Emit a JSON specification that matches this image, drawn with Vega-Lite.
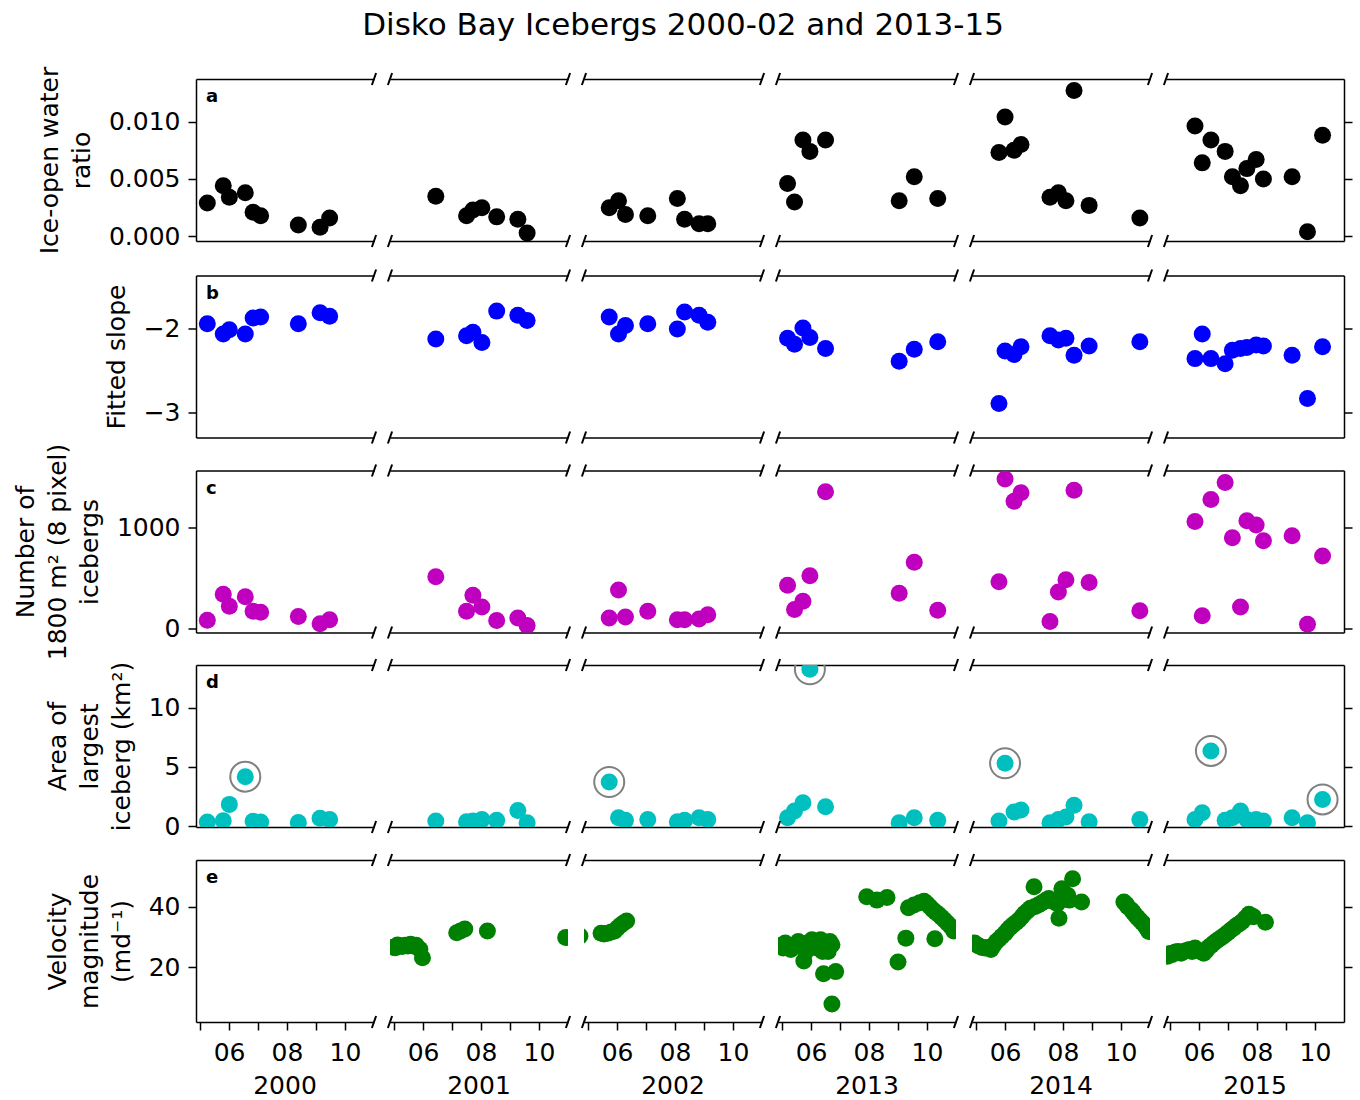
{
  "$schema": "https://vega.github.io/schema/vega-lite/v6.json",
  "padding": {"left": 13, "right": 5, "top": 10, "bottom": 0},
  "title": {"text": "Disko Bay Icebergs 2000-02 and 2013-15", "font": "DejaVu Sans", "fontSize": 31, "fontWeight": "normal", "color": "#000000", "anchor": "middle", "frame": "bounds", "offset": 24},
  "config": {
    "font": "DejaVu Sans",
    "view": {"stroke": null},
    "axis": {"grid": false, "labelFont": "DejaVu Sans", "labelFontSize": 25, "labelColor": "#000000", "titleFont": "DejaVu Sans", "titleFontSize": 25, "titleFontWeight": "normal", "titleColor": "#000000", "titleLineHeight": 32, "titlePadding": 14, "domainColor": "#000000", "domainWidth": 1.5, "tickColor": "#000000", "tickWidth": 1.5, "tickSize": 8, "labelPadding": 8, "labelFlush": false, "labelOverlap": false},
    "header": {"labelFont": "DejaVu Sans", "labelFontSize": 25, "labelColor": "#000000"}
  },
  "datasets": {
    "a": [
      {"year":2000,"m":5.25,"v":0.0029},{"year":2000,"m":5.80,"v":0.0044},{"year":2000,"m":6.01,"v":0.0034},{"year":2000,"m":6.56,"v":0.0038},{"year":2000,"m":6.83,"v":0.0021},{"year":2000,"m":7.09,"v":0.0018},{"year":2000,"m":8.39,"v":0.0010},{"year":2000,"m":9.14,"v":0.0008},{"year":2000,"m":9.47,"v":0.0016},
      {"year":2001,"m":6.44,"v":0.0035},{"year":2001,"m":7.50,"v":0.0018},{"year":2001,"m":7.72,"v":0.0023},{"year":2001,"m":8.03,"v":0.0025},{"year":2001,"m":8.54,"v":0.0017},{"year":2001,"m":9.27,"v":0.0015},{"year":2001,"m":9.59,"v":0.0003},
      {"year":2002,"m":5.73,"v":0.0025},{"year":2002,"m":6.05,"v":0.0031},{"year":2002,"m":6.29,"v":0.0019},{"year":2002,"m":7.06,"v":0.0018},{"year":2002,"m":8.08,"v":0.0033},{"year":2002,"m":8.33,"v":0.0015},{"year":2002,"m":8.83,"v":0.0011},{"year":2002,"m":9.13,"v":0.0011},
      {"year":2013,"m":5.19,"v":0.0046},{"year":2013,"m":5.43,"v":0.0030},{"year":2013,"m":5.72,"v":0.0084},{"year":2013,"m":5.96,"v":0.0074},{"year":2013,"m":6.50,"v":0.0084},{"year":2013,"m":9.04,"v":0.0031},{"year":2013,"m":9.56,"v":0.0052},{"year":2013,"m":10.37,"v":0.0033},
      {"year":2014,"m":5.79,"v":0.0073},{"year":2014,"m":6.00,"v":0.0104},{"year":2014,"m":6.31,"v":0.0075},{"year":2014,"m":6.55,"v":0.0080},{"year":2014,"m":7.55,"v":0.0034},{"year":2014,"m":7.84,"v":0.0038},{"year":2014,"m":8.10,"v":0.0031},{"year":2014,"m":8.38,"v":0.0127},{"year":2014,"m":8.90,"v":0.0027},{"year":2014,"m":10.65,"v":0.0016},
      {"year":2015,"m":5.86,"v":0.0096},{"year":2015,"m":6.11,"v":0.0064},{"year":2015,"m":6.41,"v":0.0084},{"year":2015,"m":6.90,"v":0.0074},{"year":2015,"m":7.15,"v":0.0052},{"year":2015,"m":7.43,"v":0.0044},{"year":2015,"m":7.65,"v":0.0059},{"year":2015,"m":7.97,"v":0.0067},{"year":2015,"m":8.22,"v":0.0050},{"year":2015,"m":9.21,"v":0.0052},{"year":2015,"m":9.74,"v":0.0004},{"year":2015,"m":10.26,"v":0.0088}
    ],
    "b": [
      {"year":2000,"m":5.25,"v":-1.95},{"year":2000,"m":5.80,"v":-2.07},{"year":2000,"m":6.01,"v":-2.02},{"year":2000,"m":6.56,"v":-2.07},{"year":2000,"m":6.83,"v":-1.88},{"year":2000,"m":7.09,"v":-1.87},{"year":2000,"m":8.39,"v":-1.95},{"year":2000,"m":9.14,"v":-1.82},{"year":2000,"m":9.47,"v":-1.86},
      {"year":2001,"m":6.44,"v":-2.13},{"year":2001,"m":7.50,"v":-2.09},{"year":2001,"m":7.72,"v":-2.05},{"year":2001,"m":8.03,"v":-2.17},{"year":2001,"m":8.54,"v":-1.80},{"year":2001,"m":9.27,"v":-1.85},{"year":2001,"m":9.59,"v":-1.91},
      {"year":2002,"m":5.73,"v":-1.87},{"year":2002,"m":6.05,"v":-2.07},{"year":2002,"m":6.29,"v":-1.97},{"year":2002,"m":7.06,"v":-1.95},{"year":2002,"m":8.08,"v":-2.01},{"year":2002,"m":8.33,"v":-1.81},{"year":2002,"m":8.83,"v":-1.85},{"year":2002,"m":9.13,"v":-1.93},
      {"year":2013,"m":5.19,"v":-2.12},{"year":2013,"m":5.43,"v":-2.19},{"year":2013,"m":5.72,"v":-2.00},{"year":2013,"m":5.96,"v":-2.11},{"year":2013,"m":6.50,"v":-2.24},{"year":2013,"m":9.04,"v":-2.39},{"year":2013,"m":9.56,"v":-2.25},{"year":2013,"m":10.37,"v":-2.16},
      {"year":2014,"m":5.79,"v":-2.89},{"year":2014,"m":6.00,"v":-2.27},{"year":2014,"m":6.31,"v":-2.31},{"year":2014,"m":6.55,"v":-2.22},{"year":2014,"m":7.55,"v":-2.09},{"year":2014,"m":7.84,"v":-2.14},{"year":2014,"m":8.10,"v":-2.12},{"year":2014,"m":8.38,"v":-2.32},{"year":2014,"m":8.90,"v":-2.21},{"year":2014,"m":10.65,"v":-2.16},
      {"year":2015,"m":5.86,"v":-2.36},{"year":2015,"m":6.11,"v":-2.07},{"year":2015,"m":6.41,"v":-2.36},{"year":2015,"m":6.90,"v":-2.42},{"year":2015,"m":7.15,"v":-2.26},{"year":2015,"m":7.43,"v":-2.24},{"year":2015,"m":7.65,"v":-2.23},{"year":2015,"m":7.97,"v":-2.20},{"year":2015,"m":8.22,"v":-2.21},{"year":2015,"m":9.21,"v":-2.32},{"year":2015,"m":9.74,"v":-2.83},{"year":2015,"m":10.26,"v":-2.22}
    ],
    "c": [
      {"year":2000,"m":5.25,"v":80},{"year":2000,"m":5.80,"v":336},{"year":2000,"m":6.01,"v":218},{"year":2000,"m":6.56,"v":312},{"year":2000,"m":6.83,"v":168},{"year":2000,"m":7.09,"v":158},{"year":2000,"m":8.39,"v":117},{"year":2000,"m":9.14,"v":45},{"year":2000,"m":9.47,"v":84},
      {"year":2001,"m":6.44,"v":510},{"year":2001,"m":7.50,"v":168},{"year":2001,"m":7.72,"v":326},{"year":2001,"m":8.03,"v":211},{"year":2001,"m":8.54,"v":77},{"year":2001,"m":9.27,"v":101},{"year":2001,"m":9.59,"v":28},
      {"year":2002,"m":5.73,"v":101},{"year":2002,"m":6.05,"v":379},{"year":2002,"m":6.29,"v":111},{"year":2002,"m":7.06,"v":168},{"year":2002,"m":8.08,"v":84},{"year":2002,"m":8.33,"v":84},{"year":2002,"m":8.83,"v":91},{"year":2002,"m":9.13,"v":134},
      {"year":2013,"m":5.19,"v":426},{"year":2013,"m":5.43,"v":185},{"year":2013,"m":5.72,"v":268},{"year":2013,"m":5.96,"v":520},{"year":2013,"m":6.50,"v":1352},{"year":2013,"m":9.04,"v":346},{"year":2013,"m":9.56,"v":654},{"year":2013,"m":10.37,"v":178},
      {"year":2014,"m":5.79,"v":460},{"year":2014,"m":6.00,"v":1477},{"year":2014,"m":6.31,"v":1258},{"year":2014,"m":6.55,"v":1342},{"year":2014,"m":7.55,"v":67},{"year":2014,"m":7.84,"v":359},{"year":2014,"m":8.10,"v":480},{"year":2014,"m":8.38,"v":1366},{"year":2014,"m":8.90,"v":453},{"year":2014,"m":10.65,"v":174},
      {"year":2015,"m":5.86,"v":1057},{"year":2015,"m":6.11,"v":124},{"year":2015,"m":6.41,"v":1275},{"year":2015,"m":6.90,"v":1443},{"year":2015,"m":7.15,"v":896},{"year":2015,"m":7.43,"v":211},{"year":2015,"m":7.65,"v":1064},{"year":2015,"m":7.97,"v":1023},{"year":2015,"m":8.22,"v":866},{"year":2015,"m":9.21,"v":916},{"year":2015,"m":9.74,"v":40},{"year":2015,"m":10.26,"v":715}
    ],
    "d": [
      {"year":2000,"m":5.25,"v":0.35,"circled":false},{"year":2000,"m":5.80,"v":0.45,"circled":false},{"year":2000,"m":6.01,"v":1.83,"circled":false},{"year":2000,"m":6.56,"v":4.17,"circled":true},{"year":2000,"m":6.83,"v":0.40,"circled":false},{"year":2000,"m":7.09,"v":0.35,"circled":false},{"year":2000,"m":8.39,"v":0.30,"circled":false},{"year":2000,"m":9.14,"v":0.65,"circled":false},{"year":2000,"m":9.47,"v":0.55,"circled":false},
      {"year":2001,"m":6.44,"v":0.42,"circled":false},{"year":2001,"m":7.50,"v":0.37,"circled":false},{"year":2001,"m":7.72,"v":0.42,"circled":false},{"year":2001,"m":8.03,"v":0.56,"circled":false},{"year":2001,"m":8.54,"v":0.48,"circled":false},{"year":2001,"m":9.27,"v":1.32,"circled":false},{"year":2001,"m":9.59,"v":0.28,"circled":false},
      {"year":2002,"m":5.73,"v":3.72,"circled":true},{"year":2002,"m":6.05,"v":0.70,"circled":false},{"year":2002,"m":6.29,"v":0.48,"circled":false},{"year":2002,"m":7.06,"v":0.56,"circled":false},{"year":2002,"m":8.08,"v":0.37,"circled":false},{"year":2002,"m":8.33,"v":0.48,"circled":false},{"year":2002,"m":8.83,"v":0.70,"circled":false},{"year":2002,"m":9.13,"v":0.56,"circled":false},
      {"year":2013,"m":5.19,"v":0.70,"circled":false},{"year":2013,"m":5.43,"v":1.27,"circled":false},{"year":2013,"m":5.72,"v":1.97,"circled":false},{"year":2013,"m":5.96,"v":13.24,"circled":true},{"year":2013,"m":6.50,"v":1.63,"circled":false},{"year":2013,"m":9.04,"v":0.28,"circled":false},{"year":2013,"m":9.56,"v":0.70,"circled":false},{"year":2013,"m":10.37,"v":0.48,"circled":false},
      {"year":2014,"m":5.79,"v":0.42,"circled":false},{"year":2014,"m":6.00,"v":5.30,"circled":true},{"year":2014,"m":6.31,"v":1.18,"circled":false},{"year":2014,"m":6.55,"v":1.35,"circled":false},{"year":2014,"m":7.55,"v":0.28,"circled":false},{"year":2014,"m":7.84,"v":0.56,"circled":false},{"year":2014,"m":8.10,"v":0.76,"circled":false},{"year":2014,"m":8.38,"v":1.75,"circled":false},{"year":2014,"m":8.90,"v":0.37,"circled":false},{"year":2014,"m":10.65,"v":0.56,"circled":false},
      {"year":2015,"m":5.86,"v":0.56,"circled":false},{"year":2015,"m":6.11,"v":1.13,"circled":false},{"year":2015,"m":6.41,"v":6.34,"circled":true},{"year":2015,"m":6.90,"v":0.48,"circled":false},{"year":2015,"m":7.15,"v":0.70,"circled":false},{"year":2015,"m":7.43,"v":1.27,"circled":false},{"year":2015,"m":7.65,"v":0.56,"circled":false},{"year":2015,"m":7.97,"v":0.56,"circled":false},{"year":2015,"m":8.22,"v":0.42,"circled":false},{"year":2015,"m":9.21,"v":0.70,"circled":false},{"year":2015,"m":9.74,"v":0.28,"circled":false},{"year":2015,"m":10.26,"v":2.25,"circled":true}
    ],
    "e": [
      {"year":2000,"m":null,"v":null},
      {"year":2001,"m":4.97,"v":26.6},{"year":2001,"m":5.05,"v":26.4},{"year":2001,"m":5.12,"v":27.3},{"year":2001,"m":5.18,"v":27.0},{"year":2001,"m":5.28,"v":26.8},{"year":2001,"m":5.38,"v":27.2},{"year":2001,"m":5.48,"v":27.0},{"year":2001,"m":5.57,"v":27.6},{"year":2001,"m":5.66,"v":27.0},{"year":2001,"m":5.76,"v":27.2},{"year":2001,"m":5.89,"v":25.9},{"year":2001,"m":5.98,"v":23.1},{"year":2001,"m":7.16,"v":31.4},{"year":2001,"m":7.29,"v":32.0},{"year":2001,"m":7.44,"v":32.6},{"year":2001,"m":8.22,"v":32.0},{"year":2001,"m":10.92,"v":29.8},
      {"year":2002,"m":4.72,"v":30.3},{"year":2002,"m":5.45,"v":31.2},{"year":2002,"m":5.55,"v":31.0},{"year":2002,"m":5.68,"v":31.2},{"year":2002,"m":5.80,"v":31.6},{"year":2002,"m":5.92,"v":32.0},{"year":2002,"m":6.02,"v":33.0},{"year":2002,"m":6.12,"v":33.9},{"year":2002,"m":6.22,"v":34.6},{"year":2002,"m":6.33,"v":35.3},
      {"year":2013,"m":4.95,"v":27.2},{"year":2013,"m":5.04,"v":26.3},{"year":2013,"m":5.11,"v":28.0},{"year":2013,"m":5.23,"v":26.9},{"year":2013,"m":5.30,"v":25.8},{"year":2013,"m":5.43,"v":27.2},{"year":2013,"m":5.56,"v":28.5},{"year":2013,"m":5.62,"v":26.9},{"year":2013,"m":5.75,"v":22.0},{"year":2013,"m":5.82,"v":25.2},{"year":2013,"m":5.88,"v":28.0},{"year":2013,"m":6.03,"v":29.1},{"year":2013,"m":6.14,"v":27.4},{"year":2013,"m":6.20,"v":26.3},{"year":2013,"m":6.33,"v":29.1},{"year":2013,"m":6.40,"v":25.2},{"year":2013,"m":6.52,"v":26.9},{"year":2013,"m":6.59,"v":25.2},{"year":2013,"m":6.65,"v":28.5},{"year":2013,"m":6.72,"v":27.4},{"year":2013,"m":6.43,"v":17.8},{"year":2013,"m":6.85,"v":18.5},{"year":2013,"m":6.72,"v":7.8},{"year":2013,"m":7.92,"v":43.3},{"year":2013,"m":8.27,"v":42.2},{"year":2013,"m":8.62,"v":43.1},{"year":2013,"m":9.00,"v":21.7},{"year":2013,"m":9.27,"v":29.6},{"year":2013,"m":9.36,"v":39.7},{"year":2013,"m":9.55,"v":40.6},{"year":2013,"m":9.75,"v":41.3},{"year":2013,"m":9.90,"v":41.8},{"year":2013,"m":10.00,"v":41.0},{"year":2013,"m":10.10,"v":40.0},{"year":2013,"m":10.20,"v":39.0},{"year":2013,"m":10.27,"v":29.4},{"year":2013,"m":10.30,"v":38.2},{"year":2013,"m":10.40,"v":37.4},{"year":2013,"m":10.50,"v":36.5},{"year":2013,"m":10.60,"v":35.6},{"year":2013,"m":10.70,"v":34.6},{"year":2013,"m":10.80,"v":33.6},{"year":2013,"m":10.92,"v":32.0},
      {"year":2014,"m":4.95,"v":28.0},{"year":2014,"m":5.05,"v":27.2},{"year":2014,"m":5.12,"v":26.9},{"year":2014,"m":5.20,"v":26.5},{"year":2014,"m":5.31,"v":26.3},{"year":2014,"m":5.40,"v":26.5},{"year":2014,"m":5.51,"v":25.8},{"year":2014,"m":5.60,"v":27.2},{"year":2014,"m":5.70,"v":28.5},{"year":2014,"m":5.80,"v":29.3},{"year":2014,"m":5.89,"v":30.2},{"year":2014,"m":6.00,"v":31.2},{"year":2014,"m":6.09,"v":32.3},{"year":2014,"m":6.18,"v":33.2},{"year":2014,"m":6.28,"v":34.0},{"year":2014,"m":6.38,"v":34.8},{"year":2014,"m":6.48,"v":35.6},{"year":2014,"m":6.58,"v":36.7},{"year":2014,"m":6.67,"v":37.8},{"year":2014,"m":6.77,"v":38.6},{"year":2014,"m":6.87,"v":39.5},{"year":2014,"m":7.00,"v":46.6},{"year":2014,"m":7.02,"v":40.0},{"year":2014,"m":7.13,"v":40.5},{"year":2014,"m":7.22,"v":41.0},{"year":2014,"m":7.32,"v":41.6},{"year":2014,"m":7.42,"v":42.2},{"year":2014,"m":7.51,"v":42.7},{"year":2014,"m":7.60,"v":42.0},{"year":2014,"m":7.71,"v":41.6},{"year":2014,"m":7.80,"v":41.0},{"year":2014,"m":7.86,"v":36.2},{"year":2014,"m":7.96,"v":46.0},{"year":2014,"m":8.05,"v":42.5},{"year":2014,"m":8.16,"v":43.8},{"year":2014,"m":8.22,"v":42.2},{"year":2014,"m":8.33,"v":49.3},{"year":2014,"m":8.64,"v":41.6},{"year":2014,"m":10.10,"v":41.6},{"year":2014,"m":10.18,"v":40.8},{"year":2014,"m":10.23,"v":40.0},{"year":2014,"m":10.36,"v":38.9},{"year":2014,"m":10.42,"v":38.2},{"year":2014,"m":10.49,"v":37.3},{"year":2014,"m":10.57,"v":36.4},{"year":2014,"m":10.65,"v":35.6},{"year":2014,"m":10.73,"v":34.8},{"year":2014,"m":10.81,"v":34.0},{"year":2014,"m":10.88,"v":33.0},{"year":2014,"m":10.96,"v":31.8},
      {"year":2015,"m":4.92,"v":23.6},{"year":2015,"m":5.00,"v":24.5},{"year":2015,"m":5.08,"v":24.2},{"year":2015,"m":5.18,"v":25.0},{"year":2015,"m":5.28,"v":25.2},{"year":2015,"m":5.38,"v":24.6},{"year":2015,"m":5.47,"v":25.2},{"year":2015,"m":5.57,"v":25.5},{"year":2015,"m":5.67,"v":25.8},{"year":2015,"m":5.76,"v":25.2},{"year":2015,"m":5.86,"v":26.3},{"year":2015,"m":5.96,"v":25.5},{"year":2015,"m":6.06,"v":25.2},{"year":2015,"m":6.16,"v":24.6},{"year":2015,"m":6.25,"v":25.5},{"year":2015,"m":6.32,"v":26.5},{"year":2015,"m":6.42,"v":27.2},{"year":2015,"m":6.51,"v":28.0},{"year":2015,"m":6.61,"v":28.7},{"year":2015,"m":6.71,"v":29.4},{"year":2015,"m":6.80,"v":30.0},{"year":2015,"m":6.90,"v":30.7},{"year":2015,"m":7.00,"v":31.5},{"year":2015,"m":7.10,"v":32.3},{"year":2015,"m":7.20,"v":33.0},{"year":2015,"m":7.29,"v":33.8},{"year":2015,"m":7.39,"v":34.4},{"year":2015,"m":7.49,"v":35.1},{"year":2015,"m":7.60,"v":36.3},{"year":2015,"m":7.72,"v":37.5},{"year":2015,"m":7.80,"v":37.0},{"year":2015,"m":7.88,"v":36.7},{"year":2015,"m":8.29,"v":34.9}
    ]
  },
  "spacing": -5.5,
  "vconcat": [
    {
      "spacing": 11.5,
      "vconcat": [
        {
          "data": {"name": "a"},
          "facet": {"column": {"field": "year", "type": "ordinal", "title": null, "header": {"labels": false, "title": null}}},
          "spacing": 16,
          "bounds": "flush",
          "spec": {
            "width": 178, "height": 162,
            "layer": [
              {"mark": {"type": "circle", "size": 289, "opacity": 1, "color": "#000000", "clip": true},
               "encoding": {
                 "x": {"field": "m", "type": "quantitative", "scale": {"domain": [4.86, 11.0], "nice": false, "zero": false}, "axis": {"orient": "bottom", "ticks": false, "labels": false, "title": null}},
                 "y": {"field": "v", "type": "quantitative", "scale": {"domain": [-0.0004, 0.0137], "nice": false, "zero": false}, "axis": {"orient": "left", "values": [0, 0.005, 0.01], "format": ".3f", "title": ["Ice-open water", "ratio"]}}}},
              {"mark": {"type": "circle", "opacity": 0},
               "encoding": {
                 "x": {"field": "m", "type": "quantitative", "axis": {"orient": "top", "ticks": false, "labels": false, "title": null}},
                 "y": {"field": "v", "type": "quantitative", "axis": {"orient": "right", "values": [0, 0.005, 0.01], "labels": false, "title": null}}}},
              {"transform": [{"filter": "datum.year == 2000"}, {"aggregate": [{"op": "count", "as": "n"}], "groupby": ["year"]}],
               "mark": {"type": "text", "text": "a", "fontSize": 18, "fontWeight": "bold", "align": "left", "baseline": "middle", "dx": 10, "dy": 18, "color": "#000000"},
               "encoding": {"x": {"datum": 4.86, "type": "quantitative", "axis": null}, "y": {"datum": 0.0137, "type": "quantitative", "axis": null}}},
              {"transform": [{"filter": "datum.year != 2000"}, {"aggregate": [{"op": "count", "as": "n"}], "groupby": ["year"]}],
               "mark": {"type": "point", "shape": "M-0.35,1L0.35,-1", "size": 144, "filled": false, "color": "#000000", "strokeWidth": 2, "opacity": 1, "clip": false},
               "encoding": {"x": {"datum": 4.86, "type": "quantitative", "axis": null}, "y": {"datum": 0.0137, "type": "quantitative", "axis": null}}},
              {"transform": [{"filter": "datum.year != 2000"}, {"aggregate": [{"op": "count", "as": "n"}], "groupby": ["year"]}],
               "mark": {"type": "point", "shape": "M-0.35,1L0.35,-1", "size": 144, "filled": false, "color": "#000000", "strokeWidth": 2, "opacity": 1, "clip": false},
               "encoding": {"x": {"datum": 4.86, "type": "quantitative", "axis": null}, "y": {"datum": -0.0004, "type": "quantitative", "axis": null}}},
              {"transform": [{"filter": "datum.year != 2015"}, {"aggregate": [{"op": "count", "as": "n"}], "groupby": ["year"]}],
               "mark": {"type": "point", "shape": "M-0.35,1L0.35,-1", "size": 144, "filled": false, "color": "#000000", "strokeWidth": 2, "opacity": 1, "clip": false},
               "encoding": {"x": {"datum": 11.0, "type": "quantitative", "axis": null}, "y": {"datum": 0.0137, "type": "quantitative", "axis": null}}},
              {"transform": [{"filter": "datum.year != 2015"}, {"aggregate": [{"op": "count", "as": "n"}], "groupby": ["year"]}],
               "mark": {"type": "point", "shape": "M-0.35,1L0.35,-1", "size": 144, "filled": false, "color": "#000000", "strokeWidth": 2, "opacity": 1, "clip": false},
               "encoding": {"x": {"datum": 11.0, "type": "quantitative", "axis": null}, "y": {"datum": -0.0004, "type": "quantitative", "axis": null}}}
            ],
            "resolve": {"axis": {"x": "independent", "y": "independent"}}
          }
        },
        {
          "data": {"name": "b"},
          "facet": {"column": {"field": "year", "type": "ordinal", "title": null, "header": {"labels": false, "title": null}}},
          "spacing": 16,
          "bounds": "flush",
          "spec": {
            "width": 178, "height": 162,
            "layer": [
              {"mark": {"type": "circle", "size": 289, "opacity": 1, "color": "#0000ff", "clip": true},
               "encoding": {
                 "x": {"field": "m", "type": "quantitative", "scale": {"domain": [4.86, 11.0], "nice": false, "zero": false}, "axis": {"orient": "bottom", "ticks": false, "labels": false, "title": null}},
                 "y": {"field": "v", "type": "quantitative", "scale": {"domain": [-3.29, -1.38], "nice": false, "zero": false}, "axis": {"orient": "left", "values": [-3, -2], "format": "d", "title": "Fitted slope"}}}},
              {"mark": {"type": "circle", "opacity": 0},
               "encoding": {
                 "x": {"field": "m", "type": "quantitative", "axis": {"orient": "top", "ticks": false, "labels": false, "title": null}},
                 "y": {"field": "v", "type": "quantitative", "axis": {"orient": "right", "values": [-3, -2], "labels": false, "title": null}}}},
              {"transform": [{"filter": "datum.year == 2000"}, {"aggregate": [{"op": "count", "as": "n"}], "groupby": ["year"]}],
               "mark": {"type": "text", "text": "b", "fontSize": 18, "fontWeight": "bold", "align": "left", "baseline": "middle", "dx": 10, "dy": 18, "color": "#000000"},
               "encoding": {"x": {"datum": 4.86, "type": "quantitative", "axis": null}, "y": {"datum": -1.38, "type": "quantitative", "axis": null}}},
              {"transform": [{"filter": "datum.year != 2000"}, {"aggregate": [{"op": "count", "as": "n"}], "groupby": ["year"]}],
               "mark": {"type": "point", "shape": "M-0.35,1L0.35,-1", "size": 144, "filled": false, "color": "#000000", "strokeWidth": 2, "opacity": 1, "clip": false},
               "encoding": {"x": {"datum": 4.86, "type": "quantitative", "axis": null}, "y": {"datum": -1.38, "type": "quantitative", "axis": null}}},
              {"transform": [{"filter": "datum.year != 2000"}, {"aggregate": [{"op": "count", "as": "n"}], "groupby": ["year"]}],
               "mark": {"type": "point", "shape": "M-0.35,1L0.35,-1", "size": 144, "filled": false, "color": "#000000", "strokeWidth": 2, "opacity": 1, "clip": false},
               "encoding": {"x": {"datum": 4.86, "type": "quantitative", "axis": null}, "y": {"datum": -3.29, "type": "quantitative", "axis": null}}},
              {"transform": [{"filter": "datum.year != 2015"}, {"aggregate": [{"op": "count", "as": "n"}], "groupby": ["year"]}],
               "mark": {"type": "point", "shape": "M-0.35,1L0.35,-1", "size": 144, "filled": false, "color": "#000000", "strokeWidth": 2, "opacity": 1, "clip": false},
               "encoding": {"x": {"datum": 11.0, "type": "quantitative", "axis": null}, "y": {"datum": -1.38, "type": "quantitative", "axis": null}}},
              {"transform": [{"filter": "datum.year != 2015"}, {"aggregate": [{"op": "count", "as": "n"}], "groupby": ["year"]}],
               "mark": {"type": "point", "shape": "M-0.35,1L0.35,-1", "size": 144, "filled": false, "color": "#000000", "strokeWidth": 2, "opacity": 1, "clip": false},
               "encoding": {"x": {"datum": 11.0, "type": "quantitative", "axis": null}, "y": {"datum": -3.29, "type": "quantitative", "axis": null}}}
            ],
            "resolve": {"axis": {"x": "independent", "y": "independent"}}
          }
        }
      ]
    },
    {
      "data": {"name": "c"},
      "facet": {"column": {"field": "year", "type": "ordinal", "title": null, "header": {"labels": false, "title": null}}},
      "spacing": 16,
      "bounds": "flush",
      "spec": {
        "width": 178, "height": 162,
        "layer": [
          {"mark": {"type": "circle", "size": 289, "opacity": 1, "color": "#bf00bf", "clip": true},
           "encoding": {
             "x": {"field": "m", "type": "quantitative", "scale": {"domain": [4.86, 11.0], "nice": false, "zero": false}, "axis": {"orient": "bottom", "ticks": false, "labels": false, "title": null}},
             "y": {"field": "v", "type": "quantitative", "scale": {"domain": [-42, 1562], "nice": false, "zero": false}, "axis": {"orient": "left", "values": [0, 1000], "format": "d", "title": ["Number of", "1800 m² (8 pixel)", "icebergs"]}}}},
          {"mark": {"type": "circle", "opacity": 0},
           "encoding": {
             "x": {"field": "m", "type": "quantitative", "axis": {"orient": "top", "ticks": false, "labels": false, "title": null}},
             "y": {"field": "v", "type": "quantitative", "axis": {"orient": "right", "values": [0, 1000], "labels": false, "title": null}}}},
          {"transform": [{"filter": "datum.year == 2000"}, {"aggregate": [{"op": "count", "as": "n"}], "groupby": ["year"]}],
           "mark": {"type": "text", "text": "c", "fontSize": 18, "fontWeight": "bold", "align": "left", "baseline": "middle", "dx": 10, "dy": 18, "color": "#000000"},
           "encoding": {"x": {"datum": 4.86, "type": "quantitative", "axis": null}, "y": {"datum": 1562, "type": "quantitative", "axis": null}}},
          {"transform": [{"filter": "datum.year != 2000"}, {"aggregate": [{"op": "count", "as": "n"}], "groupby": ["year"]}],
           "mark": {"type": "point", "shape": "M-0.35,1L0.35,-1", "size": 144, "filled": false, "color": "#000000", "strokeWidth": 2, "opacity": 1, "clip": false},
           "encoding": {"x": {"datum": 4.86, "type": "quantitative", "axis": null}, "y": {"datum": 1562, "type": "quantitative", "axis": null}}},
          {"transform": [{"filter": "datum.year != 2000"}, {"aggregate": [{"op": "count", "as": "n"}], "groupby": ["year"]}],
           "mark": {"type": "point", "shape": "M-0.35,1L0.35,-1", "size": 144, "filled": false, "color": "#000000", "strokeWidth": 2, "opacity": 1, "clip": false},
           "encoding": {"x": {"datum": 4.86, "type": "quantitative", "axis": null}, "y": {"datum": -42, "type": "quantitative", "axis": null}}},
          {"transform": [{"filter": "datum.year != 2015"}, {"aggregate": [{"op": "count", "as": "n"}], "groupby": ["year"]}],
           "mark": {"type": "point", "shape": "M-0.35,1L0.35,-1", "size": 144, "filled": false, "color": "#000000", "strokeWidth": 2, "opacity": 1, "clip": false},
           "encoding": {"x": {"datum": 11.0, "type": "quantitative", "axis": null}, "y": {"datum": 1562, "type": "quantitative", "axis": null}}},
          {"transform": [{"filter": "datum.year != 2015"}, {"aggregate": [{"op": "count", "as": "n"}], "groupby": ["year"]}],
           "mark": {"type": "point", "shape": "M-0.35,1L0.35,-1", "size": 144, "filled": false, "color": "#000000", "strokeWidth": 2, "opacity": 1, "clip": false},
           "encoding": {"x": {"datum": 11.0, "type": "quantitative", "axis": null}, "y": {"datum": -42, "type": "quantitative", "axis": null}}}
        ],
        "resolve": {"axis": {"x": "independent", "y": "independent"}}
      }
    },
    {
      "spacing": 10,
      "vconcat": [
        {
          "data": {"name": "d"},
          "facet": {"column": {"field": "year", "type": "ordinal", "title": null, "header": {"labels": false, "title": null}}},
          "spacing": 16,
          "bounds": "flush",
          "spec": {
            "width": 178, "height": 162,
            "layer": [
              {"mark": {"type": "circle", "size": 289, "opacity": 1, "color": "#00bfbf", "clip": true},
               "encoding": {
                 "x": {"field": "m", "type": "quantitative", "scale": {"domain": [4.86, 11.0], "nice": false, "zero": false}, "axis": {"orient": "bottom", "ticks": false, "labels": false, "title": null}},
                 "y": {"field": "v", "type": "quantitative", "scale": {"domain": [-0.08, 13.6], "nice": false, "zero": false}, "axis": {"orient": "left", "values": [0, 5, 10], "format": "d", "title": ["Area of", "largest", "iceberg (km²)"]}}}},
              {"transform": [{"filter": "datum.circled"}],
               "mark": {"type": "point", "size": 900, "filled": false, "color": "#808080", "strokeWidth": 2, "opacity": 1, "clip": true},
               "encoding": {
                 "x": {"field": "m", "type": "quantitative", "axis": {"orient": "top", "ticks": false, "labels": false, "title": null}},
                 "y": {"field": "v", "type": "quantitative", "axis": {"orient": "right", "values": [0, 5, 10], "labels": false, "title": null}}}},
              {"transform": [{"filter": "datum.year == 2000"}, {"aggregate": [{"op": "count", "as": "n"}], "groupby": ["year"]}],
               "mark": {"type": "text", "text": "d", "fontSize": 18, "fontWeight": "bold", "align": "left", "baseline": "middle", "dx": 10, "dy": 18, "color": "#000000"},
               "encoding": {"x": {"datum": 4.86, "type": "quantitative", "axis": null}, "y": {"datum": 13.6, "type": "quantitative", "axis": null}}},
              {"transform": [{"filter": "datum.year != 2000"}, {"aggregate": [{"op": "count", "as": "n"}], "groupby": ["year"]}],
               "mark": {"type": "point", "shape": "M-0.35,1L0.35,-1", "size": 144, "filled": false, "color": "#000000", "strokeWidth": 2, "opacity": 1, "clip": false},
               "encoding": {"x": {"datum": 4.86, "type": "quantitative", "axis": null}, "y": {"datum": 13.6, "type": "quantitative", "axis": null}}},
              {"transform": [{"filter": "datum.year != 2000"}, {"aggregate": [{"op": "count", "as": "n"}], "groupby": ["year"]}],
               "mark": {"type": "point", "shape": "M-0.35,1L0.35,-1", "size": 144, "filled": false, "color": "#000000", "strokeWidth": 2, "opacity": 1, "clip": false},
               "encoding": {"x": {"datum": 4.86, "type": "quantitative", "axis": null}, "y": {"datum": -0.08, "type": "quantitative", "axis": null}}},
              {"transform": [{"filter": "datum.year != 2015"}, {"aggregate": [{"op": "count", "as": "n"}], "groupby": ["year"]}],
               "mark": {"type": "point", "shape": "M-0.35,1L0.35,-1", "size": 144, "filled": false, "color": "#000000", "strokeWidth": 2, "opacity": 1, "clip": false},
               "encoding": {"x": {"datum": 11.0, "type": "quantitative", "axis": null}, "y": {"datum": 13.6, "type": "quantitative", "axis": null}}},
              {"transform": [{"filter": "datum.year != 2015"}, {"aggregate": [{"op": "count", "as": "n"}], "groupby": ["year"]}],
               "mark": {"type": "point", "shape": "M-0.35,1L0.35,-1", "size": 144, "filled": false, "color": "#000000", "strokeWidth": 2, "opacity": 1, "clip": false},
               "encoding": {"x": {"datum": 11.0, "type": "quantitative", "axis": null}, "y": {"datum": -0.08, "type": "quantitative", "axis": null}}}
            ],
            "resolve": {"axis": {"x": "independent", "y": "independent"}}
          }
        },
        {
          "data": {"name": "e"},
          "facet": {"column": {"field": "year", "type": "ordinal", "title": null, "header": {"title": null, "labelOrient": "bottom", "labelPadding": 9, "labelFontSize": 25}}},
          "spacing": 16,
          "bounds": "flush",
          "spec": {
            "width": 178, "height": 162,
            "layer": [
              {"mark": {"type": "circle", "size": 289, "opacity": 1, "color": "#008000", "clip": true},
               "encoding": {
                 "x": {"field": "m", "type": "quantitative", "scale": {"domain": [4.86, 11.0], "nice": false, "zero": false}, "axis": {"orient": "bottom", "values": [5, 6, 7, 8, 9, 10], "labelPadding": 10, "labelExpr": "datum.value == 6 ? '06' : datum.value == 8 ? '08' : datum.value == 10 ? '10' : ''", "title": null}},
                 "y": {"field": "v", "type": "quantitative", "scale": {"domain": [1.8, 55.5], "nice": false, "zero": false}, "axis": {"orient": "left", "values": [20, 40], "format": "d", "title": ["Velocity", "magnitude", "(md⁻¹)"]}}}},
              {"mark": {"type": "circle", "opacity": 0},
               "encoding": {
                 "x": {"field": "m", "type": "quantitative", "axis": {"orient": "top", "ticks": false, "labels": false, "title": null}},
                 "y": {"field": "v", "type": "quantitative", "axis": {"orient": "right", "values": [20, 40], "labels": false, "title": null}}}},
              {"transform": [{"filter": "datum.year == 2000"}, {"aggregate": [{"op": "count", "as": "n"}], "groupby": ["year"]}],
               "mark": {"type": "text", "text": "e", "fontSize": 18, "fontWeight": "bold", "align": "left", "baseline": "middle", "dx": 10, "dy": 18, "color": "#000000"},
               "encoding": {"x": {"datum": 4.86, "type": "quantitative", "axis": null}, "y": {"datum": 55.5, "type": "quantitative", "axis": null}}},
              {"transform": [{"filter": "datum.year != 2000"}, {"aggregate": [{"op": "count", "as": "n"}], "groupby": ["year"]}],
               "mark": {"type": "point", "shape": "M-0.35,1L0.35,-1", "size": 144, "filled": false, "color": "#000000", "strokeWidth": 2, "opacity": 1, "clip": false},
               "encoding": {"x": {"datum": 4.86, "type": "quantitative", "axis": null}, "y": {"datum": 55.5, "type": "quantitative", "axis": null}}},
              {"transform": [{"filter": "datum.year != 2000"}, {"aggregate": [{"op": "count", "as": "n"}], "groupby": ["year"]}],
               "mark": {"type": "point", "shape": "M-0.35,1L0.35,-1", "size": 144, "filled": false, "color": "#000000", "strokeWidth": 2, "opacity": 1, "clip": false},
               "encoding": {"x": {"datum": 4.86, "type": "quantitative", "axis": null}, "y": {"datum": 1.8, "type": "quantitative", "axis": null}}},
              {"transform": [{"filter": "datum.year != 2015"}, {"aggregate": [{"op": "count", "as": "n"}], "groupby": ["year"]}],
               "mark": {"type": "point", "shape": "M-0.35,1L0.35,-1", "size": 144, "filled": false, "color": "#000000", "strokeWidth": 2, "opacity": 1, "clip": false},
               "encoding": {"x": {"datum": 11.0, "type": "quantitative", "axis": null}, "y": {"datum": 55.5, "type": "quantitative", "axis": null}}},
              {"transform": [{"filter": "datum.year != 2015"}, {"aggregate": [{"op": "count", "as": "n"}], "groupby": ["year"]}],
               "mark": {"type": "point", "shape": "M-0.35,1L0.35,-1", "size": 144, "filled": false, "color": "#000000", "strokeWidth": 2, "opacity": 1, "clip": false},
               "encoding": {"x": {"datum": 11.0, "type": "quantitative", "axis": null}, "y": {"datum": 1.8, "type": "quantitative", "axis": null}}}
            ],
            "resolve": {"axis": {"x": "independent", "y": "independent"}}
          }
        }
      ]
    }
  ]
}
